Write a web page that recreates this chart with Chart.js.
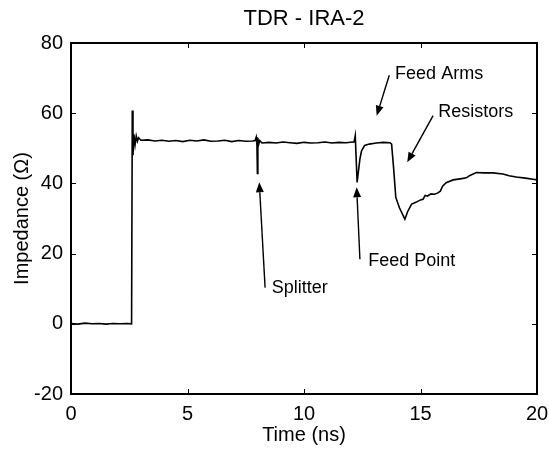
<!DOCTYPE html>
<html>
<head>
<meta charset="utf-8">
<script src="https://cdn.jsdelivr.net/npm/chart.js@4.4.1/dist/chart.umd.min.js"></script>
<style>
  body { margin: 0; background: #fff; }
  canvas { display: block; }
</style>
</head>
<body>
<canvas id="tdrChart" width="549" height="450"></canvas>
<script>
// TDR trace
const timeNs = [
    0, 0.3, 0.6, 0.9, 1.2, 1.5, 1.8, 2.1, 2.4, 2.6,
    2.63, 2.66, 2.7, 2.75, 2.8, 2.85, 2.9, 3.0,
    3.3, 3.6, 3.9, 4.2, 4.5, 4.8, 5.1, 5.4, 5.7, 6.0, 6.3, 6.6, 6.9, 7.2, 7.5, 7.8,
    7.9, 7.95, 7.98, 8.0, 8.02, 8.05, 8.1, 8.2,
    8.5, 8.8, 9.1, 9.4, 9.7, 10.0, 10.3, 10.6, 10.9, 11.2, 11.5, 11.8, 12.1,
    12.15, 12.2, 12.28, 12.4, 12.47, 12.6, 12.8, 13.1, 13.4, 13.69,
    13.76, 13.85, 13.94, 14.1, 14.33, 14.45, 14.62, 14.8, 15.0, 15.11, 15.2, 15.3,
    15.45, 15.6, 15.75, 15.85, 15.95, 16.1, 16.4, 16.7, 16.97, 17.1, 17.4, 17.7,
    18.1, 18.54, 18.8, 19.11, 19.5, 19.9, 20
];
const impedance = [
    0.1, -0.1, 0.2, 0.0, 0.1, -0.1, 0.1, 0.0, 0.1, 0.0,
    60.8, 48.0, 54.0, 51.0, 53.5, 52.0, 53.0, 52.3,
    52.4, 52.1, 52.3, 52.0, 52.2, 51.9, 52.3, 52.1, 52.4, 52.0, 52.1, 52.3, 51.9, 52.2, 52.0, 52.1,
    52.2, 53.2, 51.0, 42.8, 53.0, 51.0, 52.2, 51.5,
    51.7, 51.5, 51.8, 51.6, 51.4, 51.7, 51.5, 51.6, 51.8, 51.5, 51.7, 51.6, 51.8,
    51.8, 53.6, 40.3, 47.0, 49.3, 50.8, 51.2, 51.5, 51.7, 51.6,
    51.2, 44.0, 36.0, 33.0, 29.8, 32.0, 34.1, 34.6, 35.3, 35.5, 36.6, 36.4,
    37.0, 36.9, 37.3, 37.8, 39.2, 40.2, 41.0, 41.3, 41.6, 42.2, 43.1, 43.0,
    43.0, 42.7, 42.2, 41.8, 41.5, 41.1, 41.0
];

const xTicks = [0, 5, 10, 15, 20];
const yTicks = [-20, 0, 20, 40, 60, 80];

// labelled arrows: text anchor and arrow tail/tip, in data units
const noteLabels = ['Feed Arms', 'Resistors', 'Splitter', 'Feed Point'];
const noteText = [[13.91, 71.3], [15.76, 60.3], [8.62, 10.1], [12.76, 17.9]];
const noteTail = [[13.66, 70.8], [15.54, 59.3], [8.33, 10.3], [12.40, 18.4]];
const noteTip = [[13.12, 59.3], [14.43, 46.0], [8.08, 40.3], [12.26, 38.9]];

const FONT = "'Liberation Sans', Arial, Helvetica, sans-serif";

const boxPlugin = {
    id: 'boxPlugin',
    afterDraw(chart) {
        const { ctx, chartArea: a, scales: { x, y } } = chart;
        ctx.save();
        ctx.strokeStyle = '#000';
        ctx.fillStyle = '#000';

        // inward tick marks on all four sides
        ctx.lineWidth = 1;
        const tl = 5;
        ctx.beginPath();
        xTicks.forEach(v => {
            const px = Math.round(x.getPixelForValue(v)) + 0.5;
            ctx.moveTo(px, a.bottom); ctx.lineTo(px, a.bottom - tl);
            ctx.moveTo(px, a.top); ctx.lineTo(px, a.top + tl);
        });
        yTicks.forEach(v => {
            const py = Math.round(y.getPixelForValue(v)) + 0.5;
            ctx.moveTo(a.left, py); ctx.lineTo(a.left + tl, py);
            ctx.moveTo(a.right, py); ctx.lineTo(a.right - tl, py);
        });
        ctx.stroke();

        // axes box
        ctx.lineWidth = 2;
        ctx.strokeRect(a.left, a.top, a.right - a.left, a.bottom - a.top);

        // title
        ctx.font = '22px ' + FONT;
        ctx.textAlign = 'center';
        ctx.textBaseline = 'middle';
        ctx.fillText('TDR - IRA-2', (a.left + a.right) / 2, 19);

        // annotations
        ctx.font = '18px ' + FONT;
        ctx.textAlign = 'left';
        noteLabels.forEach((label, i) => {
            const tx = x.getPixelForValue(noteTail[i][0]);
            const ty = y.getPixelForValue(noteTail[i][1]);
            const hx = x.getPixelForValue(noteTip[i][0]);
            const hy = y.getPixelForValue(noteTip[i][1]);
            const ang = Math.atan2(hy - ty, hx - tx);
            const hl = 10, hw = 4;
            const bx = hx - hl * Math.cos(ang), by = hy - hl * Math.sin(ang);
            ctx.lineWidth = 1.4;
            ctx.beginPath();
            ctx.moveTo(tx, ty);
            ctx.lineTo(bx, by);
            ctx.stroke();
            ctx.beginPath();
            ctx.moveTo(hx, hy);
            ctx.lineTo(bx + hw * Math.sin(ang), by - hw * Math.cos(ang));
            ctx.lineTo(bx - hw * Math.sin(ang), by + hw * Math.cos(ang));
            ctx.closePath();
            ctx.fill();
            ctx.fillText(label, x.getPixelForValue(noteText[i][0]), y.getPixelForValue(noteText[i][1]));
        });
        ctx.restore();
    }
};

new Chart(document.getElementById('tdrChart'), {
    type: 'line',
    data: {
        datasets: [{
            data: timeNs.map((t, i) => ({ x: t, y: impedance[i] })),
            borderColor: '#000',
            borderWidth: 1.6,
            pointRadius: 0,
            tension: 0,
            fill: false
        }]
    },
    options: {
        responsive: false,
        animation: false,
        devicePixelRatio: 1,
        layout: { padding: { top: 43, right: 12, bottom: 0, left: 0 } },
        plugins: {
            legend: { display: false },
            tooltip: { enabled: false }
        },
        scales: {
            x: {
                type: 'linear',
                min: 0,
                max: 20,
                afterBuildTicks: scale => { scale.ticks = xTicks.map(v => ({ value: v })); },
                afterFit: scale => {
                    scale.height = 56;
                    scale.paddingLeft = 0;
                    scale.paddingRight = 0;
                },
                ticks: { color: '#000', font: { family: FONT, size: 20 }, padding: 8, maxRotation: 0 },
                grid: { display: false, drawTicks: false },
                border: { display: false },
                title: {
                    display: true,
                    text: 'Time (ns)',
                    color: '#000',
                    font: { family: FONT, size: 20 },
                    padding: { top: 0, bottom: 3 }
                }
            },
            y: {
                min: -20,
                max: 80,
                afterBuildTicks: scale => { scale.ticks = yTicks.map(v => ({ value: v })); },
                afterFit: scale => {
                    scale.width = 71;
                    scale.paddingTop = 0;
                    scale.paddingBottom = 0;
                },
                ticks: { color: '#000', font: { family: FONT, size: 20 }, padding: 8 },
                grid: { display: false, drawTicks: false },
                border: { display: false },
                title: {
                    display: true,
                    text: 'Impedance (Ω)',
                    color: '#000',
                    font: { family: FONT, size: 20 },
                    padding: { top: 10, bottom: 0 }
                }
            }
        }
    },
    plugins: [boxPlugin]
});
</script>
</body>
</html>
